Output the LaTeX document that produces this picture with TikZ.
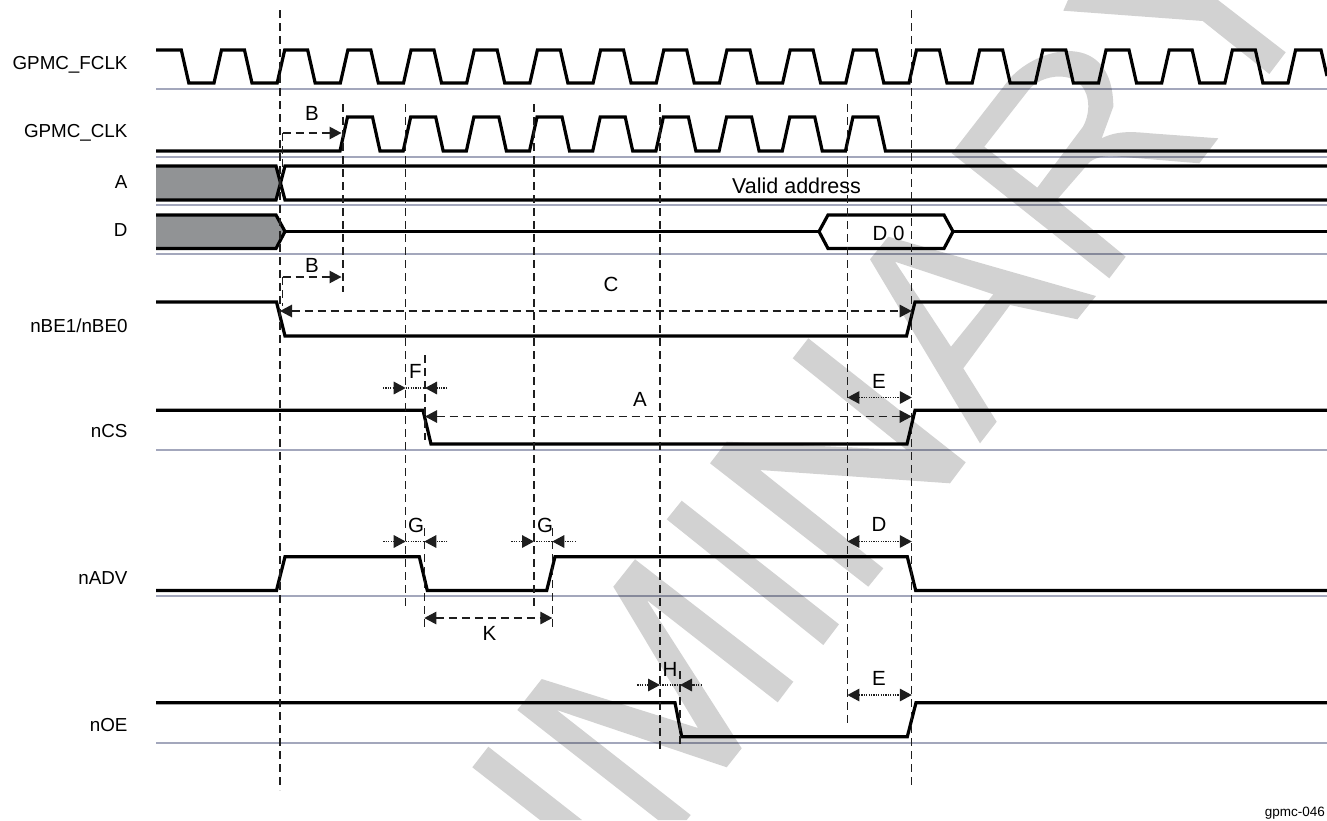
\documentclass[tikz,border=0pt]{standalone}
\usepackage{fontspec}
\setmainfont{Liberation Sans}
\usetikzlibrary{arrows.meta}

\definecolor{railgray}{HTML}{A3A7BC}
\definecolor{busgray}{HTML}{919395}
\definecolor{guidegray}{HTML}{1E1E1E}

\begin{document}
\begin{tikzpicture}[
    x=1pt, y=-1pt,
    wave/.style={draw=black, line width=3.2pt, line join=miter},
    rail/.style={draw=railgray, line width=2pt},
    stamp/.style={fill=black, fill opacity=0.175, draw=none, even odd rule},
    guide/.style={draw=guidegray, line width=1.25pt, dash pattern=on 8pt off 5pt},
    span/.style={draw=guidegray, line width=1.25pt, dash pattern=on 8pt off 5pt,
      {Triangle[length=12pt,width=12.5pt]}-{Triangle[length=12pt,width=12.5pt]}},
    spanto/.style={draw=guidegray, line width=1.25pt, dash pattern=on 8pt off 5pt,
      -{Triangle[length=12pt,width=12.5pt]}},
    hold/.style={draw=guidegray, line width=1.6pt, dash pattern=on 1.2pt off 1.2pt,
      {Triangle[length=12pt,width=12.5pt]}-{Triangle[length=12pt,width=12.5pt]}},
    holdto/.style={draw=guidegray, line width=1.6pt, dash pattern=on 1.2pt off 1.2pt,
      -{Triangle[length=12pt,width=12.5pt]}},
    hold bar/.style={draw=guidegray, line width=1.6pt, dash pattern=on 1.2pt off 1.2pt},
    signame/.style={anchor=base east, inner sep=0pt, font=\fontsize{18.8}{22}\selectfont},
    timing/.style={anchor=center, inner sep=0pt, font=\fontsize{20.5}{24}\selectfont},
  ]
  \useasboundingbox (0,0) rectangle (1327,820);

  % Rails under each signal
  \foreach \railY in {88.5,157,205,254,449.5,596,742.5}
    \draw[rail] (156,\railY) -- (1327,\railY);

  % Watermark letters
  \fill[stamp] (488.3,746.7) -- (582,820) -- (540,820) -- (472.3,767.3) -- cycle;
  \fill[stamp] (635,559.3) -- (793.3,681.7) -- (777.7,702.3) -- (646.7,600) -- (741.7,748.3)
    -- (726.7,767.3) -- (556.7,710) -- (690.7,815) -- (686.7,820) -- (658,820) -- (517.3,710)
    -- (541.7,679) -- (698,728) -- (613.3,586.7) -- cycle;
  \fill[stamp] (681.7,500.7) -- (839,624.3) -- (823.3,645) -- (666.7,519.3) -- cycle;
  \fill[stamp] (808.3,338.3) -- (965.7,462.3) -- (950,483.3) -- (760,470) -- (883.3,568.3)
    -- (868.3,586.7) -- (710,463.3) -- (726.7,441.7) -- (906.7,450) -- (792.7,358.3) -- cycle;
  \fill[stamp] (888.3,236.7) -- (1096,296) -- (1077.3,319.3) -- (1010,305) -- (963.3,368.3)
    -- (996.7,421.7) -- (980,443.3) -- (870,259.3) -- cycle
    (895,261.7) -- (993.3,294.3) -- (951,346.7) -- cycle;
  \fill[stamp] (951.7,153.3) -- (1010,78.3) .. controls (1040,45) and (1113,30) .. (1113.3,106.7)
    -- (1101.7,138.3) .. controls (1118,130) and (1135,132) .. (1150,133.3) -- (1218.3,138.3)
    -- (1199.3,163.3) -- (1120,156.7) .. controls (1108,155.5) and (1098,156) .. (1090,161.7)
    -- (1056.7,200) -- (1125.7,256.7) -- (1109.3,278.3) -- cycle
    (984.3,146.7) -- (1030,88.3) .. controls (1045,72) and (1088,68) .. (1088.3,106.7)
    .. controls (1088,115) and (1086,121) .. (1083,126.7) -- (1037.3,187.7) -- cycle;
  \fill[stamp] (1068,0) -- (1063.3,10.7) -- (1202.7,21) -- (1269.3,74) -- (1285.7,52.3) -- (1218,0) -- cycle;

  % Signal names
  \node[signame] (nameFclk) at (127.7,69.7)  {GPMC\_FCLK};
  \node[signame] (nameClk)  at (127.7,137.7) {GPMC\_CLK};
  \node[signame] (nameA)    at (127.7,188.4) {A};
  \node[signame] (nameD)    at (127.7,236.7) {D};
  \node[signame] (nameBe)   at (127.7,332.7) {nBE1/nBE0};
  \node[signame] (nameCs)   at (127.7,437.7) {nCS};
  \node[signame] (nameAdv)  at (127.7,584.7) {nADV};
  \node[signame] (nameOe)   at (127.7,731.7) {nOE};

  % Clocks
  \draw[wave] (156,50)
    \foreach \k in {0,...,17} {
      -- ({181.3+63.18*\k},50) -- ({188.8+63.18*\k},83)
      -- ({214+63.18*\k},83) -- ({221.5+63.18*\k},50)
    } -- (1321,50) -- (1327,76);
  \draw[wave] (156,151)
    \foreach \k in {0,...,8} {
      -- ({340+63.18*\k},151) -- ({347.5+63.18*\k},117)
      -- ({372.5+63.18*\k},117) -- ({380+63.18*\k},151)
    } -- (1327,151);

  % Address and data buses
  \fill[busgray] (156,166) -- (276,166) -- (280.5,183) -- (276,200) -- (156,200) -- cycle;
  \draw[wave] (156,166) -- (276,166) -- (285,200) -- (1327,200);
  \draw[wave] (156,200) -- (276,200) -- (285,166) -- (1327,166);
  \fill[busgray] (156,215) -- (276,215) -- (285,231.5) -- (276,248.5) -- (156,248.5) -- cycle;
  \draw[wave] (156,215) -- (276,215) -- (285,231.5) -- (276,248.5) -- (156,248.5);
  \draw[wave] (285,231.5) -- (819,231.5);
  \draw[wave] (819,231.5) -- (828,215) -- (944,215) -- (953,231.5) -- (944,248.5) -- (828,248.5) -- cycle;
  \draw[wave] (953,231.5) -- (1327,231.5);

  % Strobes
  \draw[wave] (156,302) -- (276.5,302) -- (285,336) -- (906.5,336) -- (915,302) -- (1327,302);
  \draw[wave] (156,410.3) -- (423,410.3) -- (431,444) -- (907,444) -- (915,410.3) -- (1327,410.3);
  \draw[wave] (156,590.5) -- (276.5,590.5) -- (285,556.7) -- (419.3,556.7) -- (427.3,590.5)
    -- (546.7,590.5) -- (555,556.7) -- (907.3,556.7) -- (915.7,590.5) -- (1327,590.5);
  \draw[wave] (156,702.7) -- (675,702.7) -- (681.7,736.7) -- (907.3,736.7) -- (916,702.7) -- (1327,702.7);

  % Guide lines
  \coordinate (clkA)  at (280,10);    \coordinate (clkAe)  at (280,790);
  \coordinate (clkB)  at (343,104);   \coordinate (clkBe)  at (343,292);
  \coordinate (clkC)  at (405.7,104); \coordinate (clkCe)  at (405.7,608);
  \coordinate (clkD)  at (534,104);   \coordinate (clkDe)  at (534,608);
  \coordinate (clkE)  at (660,104);   \coordinate (clkEe)  at (660,751);
  \coordinate (clkF)  at (847.4,104); \coordinate (clkFe)  at (847.4,724);
  \coordinate (clkG)  at (911.8,10);  \coordinate (clkGe)  at (911.8,788);
  \coordinate (edgeB)  at (282.7,133); \coordinate (edgeBe)  at (282.7,173);
  \coordinate (edgeBb) at (282.7,277); \coordinate (edgeBbe) at (282.7,306);
  \coordinate (edgeF)  at (425,355);   \coordinate (edgeFe)  at (425,440);
  \coordinate (edgeG)  at (424.3,528); \coordinate (edgeGe)  at (424.3,628);
  \coordinate (edgeK)  at (552.3,528); \coordinate (edgeKe)  at (552.3,628);
  \coordinate (edgeH)  at (680,671);   \coordinate (edgeHe)  at (680,745);
  \foreach \from/\to in {clkA/clkAe,clkB/clkBe,clkC/clkCe,clkD/clkDe,clkE/clkEe,clkF/clkFe,clkG/clkGe,
      edgeB/edgeBe,edgeBb/edgeBbe,edgeF/edgeFe,edgeG/edgeGe,edgeK/edgeKe,edgeH/edgeHe}
    \draw[guide] (\from) -- (\to);

  % Dashed spans
  \coordinate (spanBr)  at (341.5,133);
  \coordinate (spanBbr) at (341.5,277);
  \coordinate (spanCl)  at (280,311);   \coordinate (spanCr) at (911.7,311);
  \coordinate (spanAl)  at (425,416.5); \coordinate (spanAr) at (911.7,416.5);
  \coordinate (spanKl)  at (424.3,618); \coordinate (spanKr) at (552.3,618);
  \draw[spanto] (edgeB) -- (spanBr);
  \draw[spanto] (edgeBb) -- (spanBbr);
  \draw[span] (spanCl) -- (spanCr);
  \draw[span] (spanAl) -- (spanAr);
  \draw[span] (spanKl) -- (spanKr);

  % Dotted holds
  \coordinate (holdEl) at (847.4,397.5); \coordinate (holdEr) at (911.8,397.5);
  \coordinate (holdDl) at (847.4,541.5); \coordinate (holdDr) at (911.8,541.5);
  \coordinate (holdFl) at (847.4,695);   \coordinate (holdFr) at (911.8,695);
  \draw[hold] (holdEl) -- (holdEr);
  \draw[hold] (holdDl) -- (holdDr);
  \draw[hold] (holdFl) -- (holdFr);

  \coordinate (tickFa) at (383,388);     \coordinate (tickFb) at (405.7,388);
  \coordinate (tickFc) at (425,388);     \coordinate (tickFd) at (447,388);
  \coordinate (tickGa) at (383.3,541.5); \coordinate (tickGb) at (405.7,541.5);
  \coordinate (tickGc) at (424.3,541.5); \coordinate (tickGd) at (447.3,541.5);
  \coordinate (tickJa) at (511.3,541.5); \coordinate (tickJb) at (534,541.5);
  \coordinate (tickJc) at (552.3,541.5); \coordinate (tickJd) at (575.7,541.5);
  \coordinate (tickHa) at (637.3,685);   \coordinate (tickHb) at (660,685);
  \coordinate (tickHc) at (680,685);     \coordinate (tickHd) at (701.7,685);
  \foreach \tick in {F,G,J,H} {
    \draw[holdto] (tick\tick a) -- (tick\tick b);
    \draw[holdto] (tick\tick d) -- (tick\tick c);
    \draw[hold bar] (tick\tick b) -- (tick\tick c);
  }

  % Timing labels
  \node[timing] (labB)  at (312,113.5) {B};
  \node[timing] (labBb) at (312,265)   {B};
  \node[timing] (labC)  at (611,284)   {C};
  \node[timing] (labA)  at (640,399)   {A};
  \node[timing] (labF)  at (415.5,371.5) {F};
  \node[timing] (labE)  at (879,381)   {E};
  \node[timing] (labG)  at (416,525.5) {G};
  \node[timing] (labGb) at (545,525.5) {G};
  \node[timing] (labK)  at (489.5,633) {K};
  \node[timing] (labD)  at (879,524.5) {D};
  \node[timing] (labH)  at (670,669)   {H};
  \node[timing] (labEb) at (879,678.5) {E};

  % Bus text and figure tag
  \node[anchor=base, inner sep=0pt, font=\fontsize{21.5}{24}\selectfont] (valid) at (796.5,193.5) {Valid address};
  \node[timing] (dataZero) at (888.5,233) {D 0};
  \node[anchor=base east, inner sep=0pt, font=\fontsize{13.5}{15}\selectfont] (figTag) at (1325,816.8) {gpmc-046};
\end{tikzpicture}
\end{document}
